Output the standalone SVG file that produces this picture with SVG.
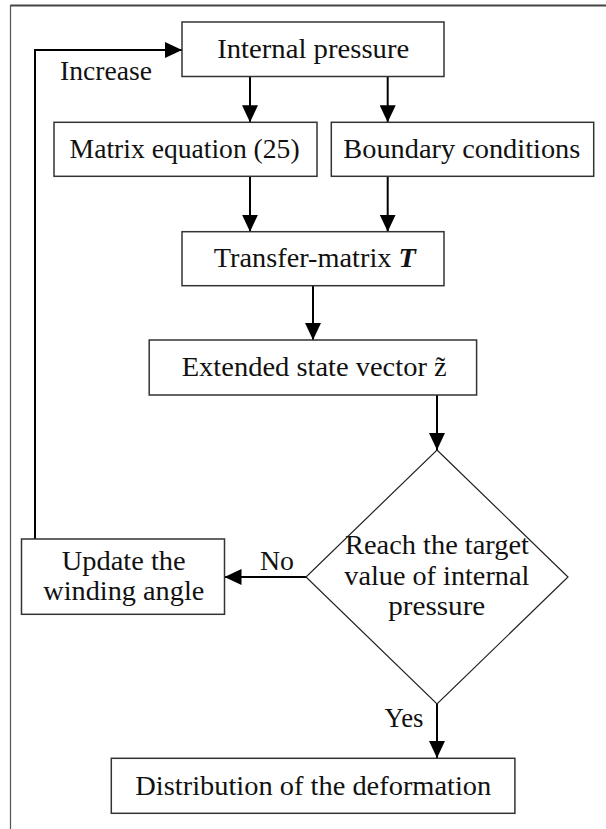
<svg xmlns="http://www.w3.org/2000/svg" width="606" height="829" viewBox="0 0 606 829">
  <style>
    .box { fill: #ffffff; stroke: #333333; stroke-width: 1.5; }
    .dia { fill: #ffffff; stroke: #222222; stroke-width: 1.2; }
    .lbl { font-family: "Liberation Serif", "Times New Roman", serif; font-size: 27px; fill: #111111; }
    .conn { fill: none; stroke: #000000; stroke-width: 2; }
    .frame { fill: none; stroke: #555555; stroke-width: 1.2; }
  </style>
  <defs>
    <marker id="arrow" viewBox="0 0 17 16" refX="17" refY="8" markerWidth="17" markerHeight="16" markerUnits="userSpaceOnUse" orient="auto">
      <path d="M0,0 L17,8 L0,16 z" fill="#000000"/>
    </marker>
  </defs>

  <rect width="606" height="829" fill="#ffffff"/>
  <!-- outer frame -->
  <path class="frame" d="M10.5,829 V5.5 H606"/>
  <line x1="10.5" y1="5.5" x2="606" y2="5.5" stroke="#444444" stroke-width="2"/>

  <!-- connectors -->
  <g id="connectors">
    <path class="conn" d="M250,76.5 V122.3" marker-end="url(#arrow)"/>
    <path class="conn" d="M387.7,76.5 V122.3" marker-end="url(#arrow)"/>
    <path class="conn" d="M250,176.3 V231.7" marker-end="url(#arrow)"/>
    <path class="conn" d="M387.7,176.3 V231.7" marker-end="url(#arrow)"/>
    <path class="conn" d="M313,285.7 V340" marker-end="url(#arrow)"/>
    <path class="conn" d="M437,395 V450" marker-end="url(#arrow)"/>
    <path class="conn" d="M306,577 H224.5" marker-end="url(#arrow)"/>
    <path class="conn" d="M437,704 V758" marker-end="url(#arrow)"/>
    <path class="conn" d="M35,539 V50 H182" marker-end="url(#arrow)"/>
    <text class="lbl" x="60" y="80" textLength="92" lengthAdjust="spacingAndGlyphs">Increase</text>
    <text class="lbl" x="260" y="569.5" textLength="34" lengthAdjust="spacingAndGlyphs">No</text>
    <text class="lbl" x="384.5" y="727" textLength="39" lengthAdjust="spacingAndGlyphs">Yes</text>
  </g>

  <g id="internal-pressure">
    <rect class="box" x="182" y="22" width="262" height="54.5"/>
    <text class="lbl" x="217.2" y="57.5" textLength="192" lengthAdjust="spacingAndGlyphs">Internal pressure</text>
  </g>

  <g id="matrix-equation">
    <rect class="box" x="54" y="122.3" width="263" height="54"/>
    <text class="lbl" x="69.6" y="158" textLength="230" lengthAdjust="spacingAndGlyphs">Matrix equation (25)</text>
  </g>

  <g id="boundary-conditions">
    <rect class="box" x="331.3" y="122.3" width="262.4" height="54"/>
    <text class="lbl" x="343.3" y="158" textLength="237" lengthAdjust="spacingAndGlyphs">Boundary conditions</text>
  </g>

  <g id="transfer-matrix">
    <rect class="box" x="182" y="231.7" width="262" height="54"/>
    <text class="lbl" x="213.8" y="267" textLength="202" lengthAdjust="spacingAndGlyphs">Transfer-matrix <tspan font-weight="bold" font-style="italic">T</tspan></text>
  </g>

  <g id="extended-state-vector">
    <rect class="box" x="149.2" y="340" width="327.4" height="55"/>
    <text class="lbl" x="181.7" y="376" textLength="265" lengthAdjust="spacingAndGlyphs">Extended state vector z̃</text>
  </g>

  <g id="target-check">
    <polygon class="dia" points="437,450 568,577 437,704 306,577"/>
    <text class="lbl" x="345" y="554" textLength="184" lengthAdjust="spacingAndGlyphs">Reach the target</text>
    <text class="lbl" x="344.3" y="585" textLength="185" lengthAdjust="spacingAndGlyphs">value of internal</text>
    <text class="lbl" x="388.3" y="615" textLength="97" lengthAdjust="spacingAndGlyphs">pressure</text>
  </g>

  <g id="update-winding-angle">
    <rect class="box" x="21.5" y="539" width="203" height="75.3"/>
    <text class="lbl" x="61.7" y="569.5" textLength="124" lengthAdjust="spacingAndGlyphs">Update the</text>
    <text class="lbl" x="43.3" y="600" textLength="161" lengthAdjust="spacingAndGlyphs">winding angle</text>
  </g>

  <g id="deformation-distribution">
    <rect class="box" x="111.3" y="758.3" width="403.6" height="55"/>
    <text class="lbl" x="135.3" y="794.5" textLength="356" lengthAdjust="spacingAndGlyphs">Distribution of the deformation</text>
  </g>
</svg>
